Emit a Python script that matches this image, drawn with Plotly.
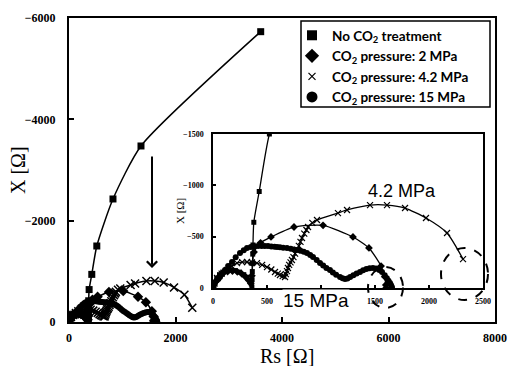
import plotly.graph_objects as go

# ---------------- data (Rs [Ohm], X [Ohm]; X plotted as negative) ----------------
no_co2_rs = [0, 15, 35, 60, 90, 125, 165, 205, 245, 285, 315, 340, 355, 360, 362, 364, 366, 368, 370, 378, 428, 522, 826, 1352, 3600]
no_co2_x = [0, 55, 95, 130, 155, 170, 175, 170, 155, 130, 105, 75, 40, 10, 80, 160, 240, 330, 419, 640, 940, 1500, 2428, 3474, 5730]

p2_rs = [0, 20, 50, 90, 135, 180, 225, 265, 300, 330, 350, 360, 366, 380, 440, 537, 750, 1019, 1296, 1444, 1556, 1590, 1600, 1603]
p2_x = [0, 60, 105, 140, 160, 165, 158, 140, 110, 75, 45, 120, 240, 350, 440, 497, 594, 610, 497, 390, 214, 110, 30, 0]

p42_rs = [0, 15, 37, 80, 130, 175, 222, 270, 315, 360, 407, 455, 500, 540, 574, 600, 620, 645, 667, 675, 685, 694, 705, 718, 731, 745, 760, 778, 795, 810, 824, 845, 865, 880, 920, 963, 1157, 1241, 1454, 1611, 1778, 1972, 2167, 2315]
p42_x = [0, 45, 97, 140, 175, 212, 243, 252, 253, 250, 243, 225, 204, 180, 156, 140, 127, 115, 107, 135, 165, 195, 225, 250, 273, 300, 335, 370, 410, 450, 487, 530, 565, 594, 635, 662, 730, 760, 808, 808, 779, 682, 536, 282]

p15_rs = [0, 8, 19, 35, 50, 65, 85, 111, 140, 176, 210, 250, 285, 315, 350, 385, 417, 450, 480, 509, 540, 570, 593, 620, 650, 685,
          720, 750, 778, 810, 840, 870, 900, 926, 960, 991, 1020, 1050, 1083, 1110, 1140, 1176, 1200, 1222, 1245, 1270, 1300, 1330,
          1361, 1390, 1420, 1450, 1481, 1510, 1540, 1565, 1590, 1610, 1625, 1639, 1648, 1655, 1657]
p15_x = [0, 25, 49, 72, 88, 107, 140, 175, 215, 253, 300, 341, 368, 389, 400, 406, 409, 410, 410, 409, 405, 401, 399, 396, 392, 389,
         383, 376, 370, 362, 352, 341, 322, 302, 272, 243, 218, 196, 175, 152, 128, 107, 95, 88, 92, 106, 125, 142,
         156, 172, 185, 192, 195, 190, 176, 156, 125, 95, 70, 49, 30, 12, 0]

series_names = ["No CO<sub>2</sub> treatment", "CO<sub>2</sub> pressure: 2 MPa",
                "CO<sub>2</sub> pressure: 4.2 MPa", "CO<sub>2</sub> pressure: 15 MPa"]
main_x_ticks = [0, 2000, 4000, 6000, 8000]
main_y_ticks = [0, -2000, -4000, -6000]
inset_x_ticks = [0, 500, 1000, 1500, 2000, 2500]
inset_x_labels = ["0", "500", "", "1500", "2000", "2500"]   # 1000 is hidden under the "15 MPa" label
inset_y_ticks = [0, -500, -1000, -1500]

# ---------------- styles ----------------
series = [
    (no_co2_rs, no_co2_x, "square", 7, 5, 10, 0),
    (p2_rs, p2_x, "diamond", 8, 6, 11, 0),
    (p42_rs, p42_x, "x-thin-open", 8, 6, 7, 1.5),
    (p15_rs, p15_x, "circle", 6, 6, 11, 0),
]

fig = go.Figure()
for (rs, xv, sym, s_main, s_ins, s_leg, lw), name in zip(series, series_names):
    neg = [-v for v in xv]
    mline = dict(color="black", width=lw if lw else 0)
    fig.add_trace(go.Scatter(x=rs, y=neg, mode="lines+markers", xaxis="x", yaxis="y",
                             line=dict(color="black", width=1.5, shape="spline", smoothing=0.6),
                             marker=dict(symbol=sym, size=s_main, color="black", line=mline),
                             showlegend=False))
    fig.add_trace(go.Scatter(x=rs, y=neg, mode="lines+markers", xaxis="x2", yaxis="y2",
                             line=dict(color="black", width=1.3, shape="spline", smoothing=0.6),
                             marker=dict(symbol=sym, size=s_ins, color="black",
                                         line=dict(color="black", width=1.2 if lw else 0)),
                             showlegend=False))
    # legend entry
    fig.add_trace(go.Scatter(x=[None], y=[None], mode="markers", name=name, xaxis="x", yaxis="y",
                             marker=dict(symbol=sym, size=s_leg, color="black",
                                         line=dict(color="black", width=1.2 if lw else 0))))

L, R, T, B = 69, 13, 18, 44
W, H = 508, 366
PW, PH = W - L - R, H - T - B


def px(x):
    return (x - L) / PW


def py(y):
    return (H - B - y) / PH


serif = "Liberation Serif"
main_tick_font = dict(family=serif, size=12, color="black", weight="bold")
ins_tick_font = dict(family=serif, size=8, color="black", weight="bold")

common = dict(ticks="inside", tickcolor="black", showline=True, linecolor="black", mirror=True,
              showgrid=False, zeroline=False, automargin=False)
ctr = dict(xanchor="center", yanchor="middle", showarrow=False, xref="paper", yref="paper")

fig.update_layout(
    width=W, height=H,
    margin=dict(l=L, r=R, t=T, b=B),
    paper_bgcolor="white", plot_bgcolor="white",
    showlegend=True,
    legend=dict(x=px(292), y=py(20), xanchor="left", yanchor="top",
                bgcolor="rgba(0,0,0,0)", borderwidth=0,
                font=dict(family="Lato", size=13.5, color="black", weight="bold"),
                tracegroupgap=0, itemclick=False),
    xaxis=dict(range=[0, 8000], tickvals=main_x_ticks, ticklen=5, tickwidth=2, linewidth=2,
               tickfont=main_tick_font, ticklabelstandoff=4, **common),
    yaxis=dict(range=[0, -6000], tickvals=main_y_ticks, ticklen=5, tickwidth=2, linewidth=2,
               tickfont=main_tick_font, ticklabelstandoff=9, **common),
    xaxis2=dict(domain=[px(213), px(483)], anchor="y2", range=[0, 2500], tickvals=inset_x_ticks,
                ticktext=inset_x_labels, ticklen=3, tickwidth=1.5, linewidth=1.5,
                tickfont=ins_tick_font, ticklabelstandoff=5, **common),
    yaxis2=dict(domain=[py(288), py(134)], anchor="x2", range=[0, -1500], tickvals=inset_y_ticks,
                ticklen=3, tickwidth=1.5, linewidth=1.5,
                tickfont=ins_tick_font, ticklabelstandoff=6, **common),
    shapes=[
        dict(type="rect", xref="paper", yref="paper", x0=px(301), x1=px(490), y0=py(107), y1=py(21),
             line=dict(color="black", width=1.5), fillcolor="rgba(0,0,0,0)", layer="above"),
        dict(type="circle", xref="paper", yref="paper", x0=px(368), x1=px(403), y0=py(308), y1=py(267),
             line=dict(color="black", width=2, dash="dash"), layer="above"),
        dict(type="circle", xref="paper", yref="paper", x0=px(441), x1=px(488), y0=py(300), y1=py(248),
             line=dict(color="black", width=2, dash="dash"), layer="above"),
    ],
    annotations=[
        dict(x=px(287), y=py(356), text="Rs [Ω]", font=dict(family=serif, size=20, color="black"), **ctr),
        dict(x=px(18), y=py(170), text="X [Ω]", textangle=-90,
             font=dict(family=serif, size=20, color="black"), **ctr),
        dict(x=px(180), y=py(211), text="X [Ω]", textangle=-90,
             font=dict(family=serif, size=11, color="black"), **ctr),
        dict(xref="paper", yref="paper", x=px(152), y=py(268), ax=0, ay=-113, showarrow=True,
             arrowhead=4, arrowsize=1, arrowwidth=2, arrowcolor="black", text=""),
        dict(x=px(402), y=py(191), text="4.2 MPa", font=dict(family="Liberation Sans", size=18, color="black"), **ctr),
        dict(x=px(316), y=py(300), text="15 MPa", bgcolor="white", borderpad=0,
             font=dict(family="Liberation Sans", size=19, color="black"), **ctr),
    ],
)

fig.write_html("out.html", config={"displayModeBar": False},
               post_script="document.body.style.margin='0px';"
                           "document.documentElement.style.overflow='hidden';")
